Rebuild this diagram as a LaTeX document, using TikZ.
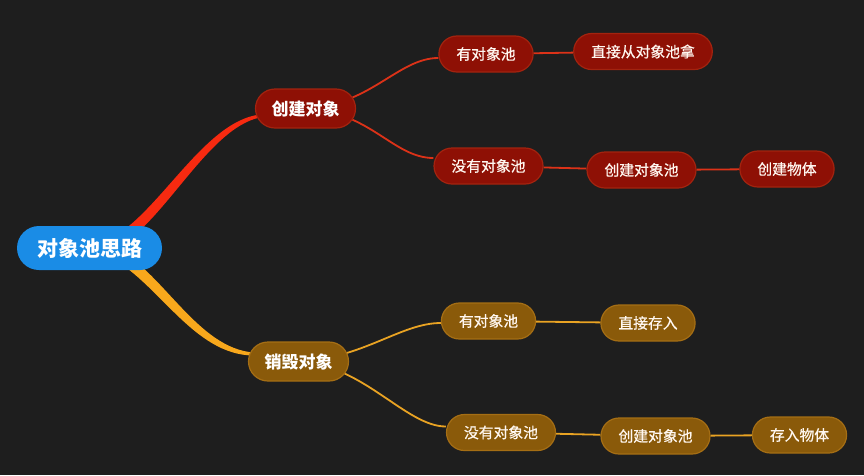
\documentclass[tikz,border=0pt]{standalone}
\usepackage{fontspec}
\setmainfont{Noto Sans CJK SC}
\newfontfamily\midfont[FakeBold=0.7]{Noto Sans CJK SC}
\usepackage{tikz}
\usetikzlibrary{calc}
\pgfdeclarelayer{background}
\pgfsetlayers{background,main}
\definecolor{bg_gray}{HTML}{1E1E1E}
\definecolor{root_blue}{HTML}{1A8CE6}
\definecolor{red_fill}{HTML}{8E1005}
\definecolor{red_line}{HTML}{A3230F}
\definecolor{red_edge}{HTML}{DC3218}
\definecolor{red_main}{HTML}{F72A10}
\definecolor{orange_fill}{HTML}{8A5A0A}
\definecolor{orange_line}{HTML}{A56E14}
\definecolor{orange_edge}{HTML}{E9A323}
\definecolor{orange_main}{HTML}{F8A81C}

\begin{document}
\begin{tikzpicture}[x=1pt, y=-1pt,
		root_style/.style={rectangle,rounded corners=22pt,fill=root_blue,text=white,minimum width=145pt,minimum height=44pt,font=\fontsize{21}{21}\selectfont\bfseries},
		red1_style/.style={rectangle,rounded corners=19.5pt,fill=red_fill,draw=red_line,line width=1.2pt,text=white,minimum height=39pt,inner xsep=16pt,font=\fontsize{17}{17}\selectfont\bfseries},
		orange1_style/.style={red1_style,fill=orange_fill,draw=orange_line},
		red2_style/.style={rectangle,rounded corners=18pt,fill=red_fill,draw=red_line,line width=1.2pt,text=white!94!orange,minimum height=36pt,inner xsep=17.5pt,font=\fontsize{14.8}{14.8}\midfont},
		orange2_style/.style={red2_style,fill=orange_fill,draw=orange_line},
		red_edge_style/.style={draw=red_edge,line width=1.8pt},
		orange_edge_style/.style={draw=orange_edge,line width=1.8pt}]

		\useasboundingbox (0,0) rectangle (864,475);

		\node[root_style] (n0) at (89.5,248) {对象池思路};
		\node[red1_style] (n1) at (305.5,108.5) {创建对象};
		\node[orange1_style] (n2) at (298.5,361.5) {销毁对象};
		\node[red2_style] (n3) at (486,54) {有对象池};
		\node[red2_style] (n4) at (488.5,166) {没有对象池};
		\node[orange2_style] (n5) at (488.5,321) {有对象池};
		\node[orange2_style] (n6) at (501,432.5) {没有对象池};
		\node[red2_style] (n7) at (643,51.5) {直接从对象池拿};
		\node[red2_style] (n8) at (641.5,170) {创建对象池};
		\node[red2_style] (n9) at (787,169) {创建物体};
		\node[orange2_style] (n10) at (648,323) {直接存入};
		\node[orange2_style] (n11) at (655.5,436) {创建对象池};
		\node[orange2_style] (n12) at (799.5,435) {存入物体};

		\begin{pgfonlayer}{background}
		\fill[bg_gray] (0,0) rectangle (864,475);
		% tapered main branches
		\fill[red_main] ($(n0)+(18,-8)$) .. controls +(50,-23) and +(-57,7) .. ($(n1.west)+(5,6)$)
			-- ($(n1.west)+(5,9)$) .. controls +(-53,11) and +(50,-23) .. ($(n0)+(23,2)$) -- cycle;
		\fill[orange_main] ($(n0)+(23,-2)$) .. controls +(50,24) and +(-57,-4) .. ($(n2.west)+(6,-9)$)
			-- ($(n2.west)+(6,-6)$) .. controls +(-61,0) and +(50,24) .. ($(n0)+(18,8)$) -- cycle;

		\draw[red_edge_style] (n1.center) .. controls +(65,-3) and +(-40,0) .. ([yshift=-4pt]n3.west);
		\draw[red_edge_style] (n1.center) .. controls +(65,3) and +(-40,0) .. ([yshift=8pt]n4.west);
		\draw[orange_edge_style] (n2.center) .. controls +(65,-3) and +(-40,0) .. ([yshift=-2pt]n5.west);
		\draw[orange_edge_style] (n2.center) .. controls +(65,3) and +(-40,0) .. ([yshift=6pt]n6.west);
		\end{pgfonlayer}

		\draw[red_edge_style]  (n3) edge node{} (n7);
		\draw[red_edge_style]  (n4) edge node{} (n8);
		\draw[red_edge_style]  (n8) edge node{} (n9);
		\draw[orange_edge_style]  (n5) edge node{} (n10);
		\draw[orange_edge_style]  (n6) edge node{} (n11);
		\draw[orange_edge_style]  (n11) edge node{} (n12);

		\end{tikzpicture}
\end{document}
